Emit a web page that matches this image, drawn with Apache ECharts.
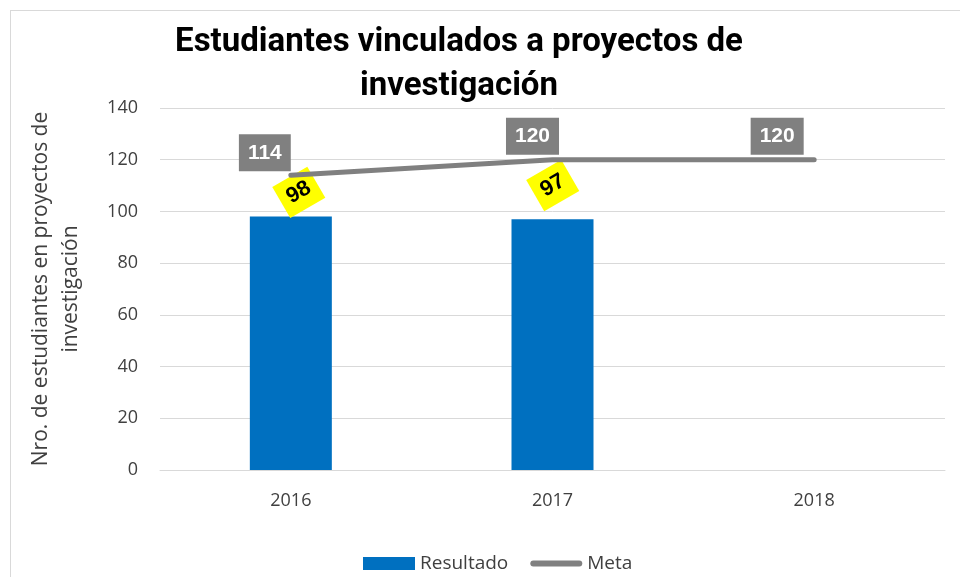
<!DOCTYPE html>
<html>
<head>
<meta charset="utf-8">
<script src="https://cdn.jsdelivr.net/npm/echarts@6/dist/echarts.min.js"></script>
<style>
  html, body { margin: 0; padding: 0; background: #fff; }
  #chart { width: 960px; height: 577px; }
  .frame { position: absolute; left: 10px; top: 10px; width: 960px; height: 600px; border: 1px solid #d9d9d9; pointer-events: none; }
</style>
</head>
<body>
<div id="chart"></div>
<div class="frame"></div>
<script>
const years = ['2016', '2017', '2018'];
const resultado = [98, 97, null];
const meta = [114, 120, 120];
const yTicks = [0, 20, 40, 60, 80, 100, 120, 140];

// offsets de etiquetas (ajuste visual); las de barras van en el marco girado 30°
const metaOffsets = [[-26, -22], [-20, -23], [-37, -23]];
const resOffsets = [[19, -17], [17, -29], [0, 0]];

const chart = echarts.init(document.getElementById('chart'));

chart.setOption({
    animation: false,
    title: {
        text: 'Estudiantes vinculados a proyectos de\ninvestigación',
        left: 454,
        top: 16,
        textAlign: 'center',
        textStyle: {
            fontFamily: 'Liberation Sans Narrow, Roboto, sans-serif',
            fontWeight: 'bold',
            fontSize: 33,
            lineHeight: 44,
            color: '#000'
        }
    },
    legend: {
        bottom: -1,
        left: 358,
        itemGap: 22,
        itemWidth: 52,
        itemHeight: 13,
        textStyle: { fontSize: 19, color: '#404040', fontFamily: 'Open Sans, sans-serif' },
        data: [
            { name: 'Resultado', icon: 'rect' },
            { name: 'Meta', icon: 'path://M3,0 L49,0 A3,3 0 0 1 49,6 L3,6 A3,3 0 0 1 3,0 Z' }
        ]
    },
    grid: { left: 160, right: 15, top: 108, bottom: 107 },
    xAxis: {
        type: 'category',
        data: years,
        axisLine: { lineStyle: { color: '#d9d9d9', width: 1 } },
        axisTick: { show: false },
        axisLabel: { fontSize: 18, color: '#404040', margin: 22, fontFamily: 'Open Sans, sans-serif' }
    },
    yAxis: {
        type: 'value',
        min: yTicks[0],
        max: yTicks[yTicks.length - 1],
        interval: 20,
        name: 'Nro. de estudiantes en proyectos de\ninvestigación',
        nameLocation: 'middle',
        nameGap: 74,
        nameTextStyle: { fontSize: 21, color: '#404040', lineHeight: 30, fontFamily: 'Open Sans, sans-serif' },
        axisLabel: { fontSize: 18, color: '#404040', margin: 22, fontFamily: 'Open Sans, sans-serif' },
        splitLine: { lineStyle: { color: '#d9d9d9', width: 1 } },
        axisLine: { show: false },
        axisTick: { show: false }
    },
    series: [
        {
            name: 'Resultado',
            type: 'bar',
            barWidth: 82,
            itemStyle: { color: '#0070C0' },
            data: resultado.map((v, i) => ({
                value: v,
                label: {
                    show: v != null,
                    position: 'top',
                    distance: 0,
                    align: 'center',
                    verticalAlign: 'middle',
                    offset: resOffsets[i],
                    rotate: 30,
                    backgroundColor: '#FFFF00',
                    padding: [8, 8, 6, 8],
                    color: '#000',
                    fontWeight: 'bold',
                    fontSize: 22,
                    fontFamily: 'Liberation Sans, sans-serif'
                }
            }))
        },
        {
            name: 'Meta',
            type: 'line',
            symbol: 'circle',
            symbolSize: 1,
            showSymbol: true,
            itemStyle: { color: '#808080' },
            lineStyle: { color: '#808080', width: 5, cap: 'round' },
            z: 3,
            label: {
                show: true,
                position: 'top',
                distance: 0,
                align: 'center',
                verticalAlign: 'middle',
                backgroundColor: '#808080',
                padding: [9, 9, 7, 9],
                color: '#fff',
                fontWeight: 'bold',
                fontSize: 21,
                fontFamily: 'Liberation Sans, sans-serif'
            },
            data: meta.map((v, i) => ({
                value: v,
                label: { offset: metaOffsets[i] }
            }))
        }
    ]
});
</script>
</body>
</html>
